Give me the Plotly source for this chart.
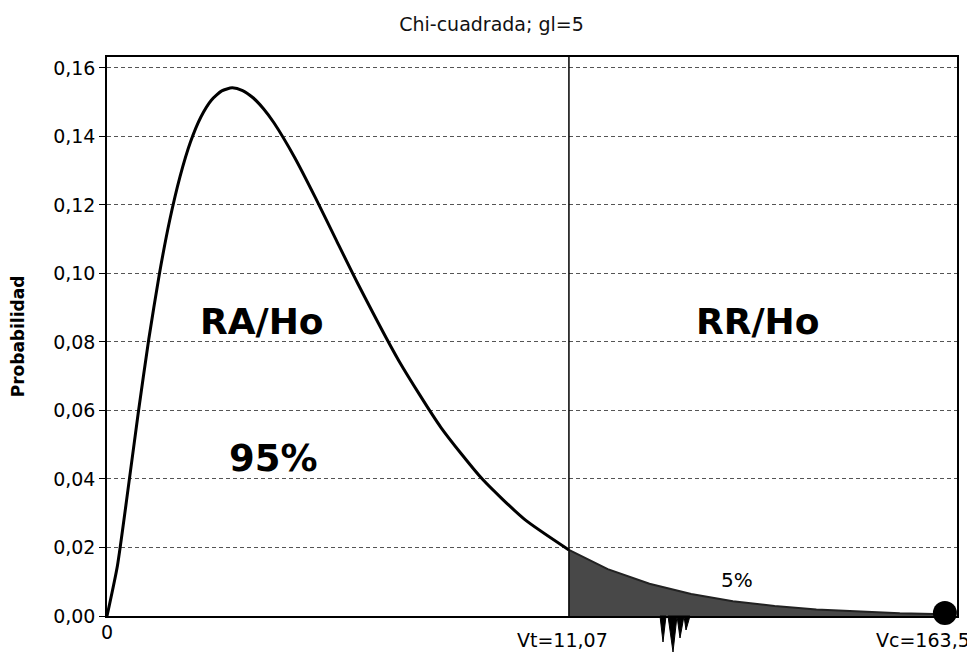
import plotly.graph_objects as go

# Curve (display x units; tail beyond Vt is compressed)
x_left = [0, 0.25, 0.5, 0.75, 1.0, 1.25, 1.5, 1.75, 2.0, 2.25, 2.5, 2.75, 3.0,
          3.25, 3.5, 3.75, 4.0, 4.5, 5.0, 5.5, 6.0, 7.0, 8.0, 9.0, 10.0, 11.07]
y_left = [0.0, 0.0147, 0.0366, 0.0594, 0.0807, 0.0995, 0.1154, 0.1283, 0.1384,
          0.1457, 0.1506, 0.1533, 0.1542, 0.1534, 0.1513, 0.1481, 0.1440, 0.1338,
          0.1220, 0.1096, 0.0973, 0.0744, 0.0551, 0.0399, 0.0283, 0.0193]
x_tail = [11.07, 12.0, 13.0, 14.0, 15.0, 16.0, 17.0, 18.0, 19.0, 20.08]
y_tail = [0.0193, 0.0137, 0.0094, 0.0064, 0.0043, 0.0029, 0.0019, 0.0013,
          0.0008, 0.0005]

vt_pos, vc_pos = 11.07, 20.08
tick_vals = [0.0, 0.02, 0.04, 0.06, 0.08, 0.10, 0.12, 0.14, 0.16]
tick_text = ["0,00", "0,02", "0,04", "0,06", "0,08", "0,10", "0,12", "0,14", "0,16"]

title_text = "Chi-cuadrada; gl=5"
y_title = "Probabilidad"
x_labels = ["0", "Vt=11,07", "Vc=163,5"]

fig = go.Figure()

# shaded rejection region
fig.add_trace(go.Scatter(x=x_tail, y=y_tail, mode="lines", fill="tozeroy",
                         fillcolor="rgb(72,72,72)",
                         line=dict(color="#222", width=2),
                         showlegend=False, hoverinfo="skip"))
# main curve
fig.add_trace(go.Scatter(x=x_left, y=y_left, mode="lines",
                         line=dict(color="black", width=3, shape="spline", smoothing=0.6),
                         showlegend=False))
# Vc marker
fig.add_trace(go.Scatter(x=[vc_pos], y=[0.0009], mode="markers",
                         marker=dict(color="black", size=24),
                         cliponaxis=False, showlegend=False))

fig.update_layout(
    width=967, height=645,
    margin=dict(l=99, r=18, t=49, b=37),
    paper_bgcolor="white", plot_bgcolor="white",
    font=dict(family="DejaVu Sans", color="black"),
    title=dict(text=title_text, x=0.5, xanchor="center", y=0.975, yanchor="middle",
               font=dict(size=19, family="DejaVu Sans", color="#111")),
    showlegend=False,
)

fig.update_xaxes(range=[0, 20.37], showgrid=False, zeroline=False,
                 showticklabels=False, ticks="", showline=True, linecolor="black",
                 linewidth=1.5, mirror=True, automargin=False)
fig.update_yaxes(range=[0, 0.1632], tickvals=tick_vals, ticktext=tick_text,
                 tickfont=dict(size=19, family="DejaVu Sans"),
                 ticks="outside", ticklen=6, tickcolor="black",
                 showgrid=True, gridcolor="#555", gridwidth=1, griddash="4px,3px",
                 zeroline=False, showline=True, linecolor="black", linewidth=1.5,
                 mirror=True, automargin=False,
                 title=dict(text="<b>" + y_title + "</b>", standoff=24,
                            font=dict(size=17, family="DejaVu Sans")))

# vertical line at Vt
fig.add_shape(type="line", x0=vt_pos, x1=vt_pos, y0=0, y1=1, xref="x", yref="paper",
              line=dict(color="black", width=1.5))

# axis-break squiggle below the axis (paper coords; pixel offsets relative to plot)
def px(p):
    return (p - 107) / 850.0

def py(p):
    return (616 - p) / 559.0

spikes = [(660, 666, 663, 642), (668, 677, 673, 652), (677, 684, 680, 638), (684, 690, 686, 630)]
for a, b, t, d in spikes:
    fig.add_shape(type="path", xref="paper", yref="paper",
                  path=f"M {px(a)} {py(616)} L {px(t)} {py(d)} L {px(b)} {py(616)} Z",
                  fillcolor="black", line=dict(color="black", width=1))

# x labels
fig.add_annotation(x=0, y=0, xref="x", yref="y", text=x_labels[0], showarrow=False,
                   yanchor="top", yshift=-3, font=dict(size=19))
fig.add_annotation(x=vt_pos, y=0, xref="x", yref="y", text=x_labels[1], showarrow=False,
                   yanchor="top", xanchor="center", xshift=-6, yshift=-11, font=dict(size=19))
fig.add_annotation(x=1.0, y=0, xref="paper", yref="y", text=x_labels[2], showarrow=False,
                   yanchor="top", xanchor="right", xshift=15, yshift=-11, font=dict(size=19))

# region labels
fig.add_annotation(x=3.72, y=0.086, xref="x", yref="y", text="<b>RA/Ho</b>", showarrow=False,
                   font=dict(size=36))
fig.add_annotation(x=15.6, y=0.086, xref="x", yref="y", text="<b>RR/Ho</b>", showarrow=False,
                   font=dict(size=36))
fig.add_annotation(x=4.0, y=0.046, xref="x", yref="y", text="<b>95%</b>", showarrow=False,
                   font=dict(size=37))
fig.add_annotation(x=15.1, y=0.0105, xref="x", yref="y", text="5%", showarrow=False,
                   font=dict(size=20))

fig.write_html("out.html")
